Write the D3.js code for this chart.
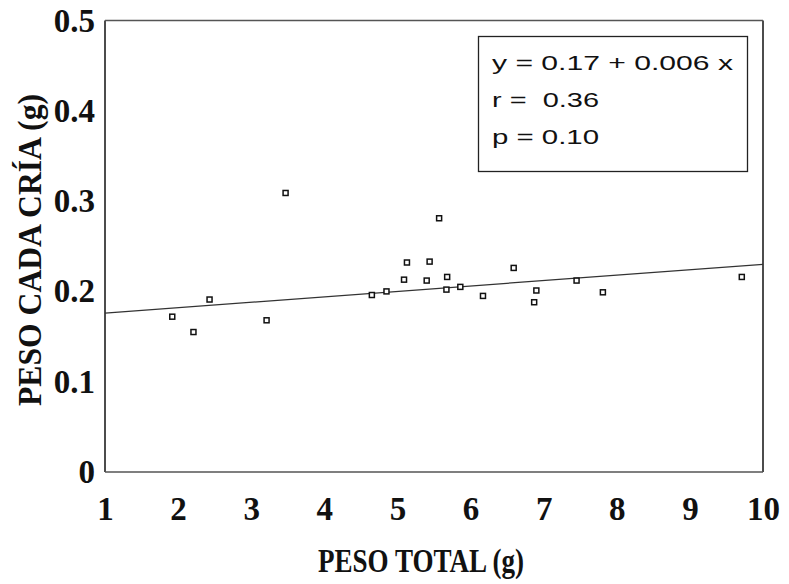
<!DOCTYPE html>
<html>
<head>
<meta charset="utf-8">
<script src="https://cdn.jsdelivr.net/npm/d3@7"></script>
<style>
  body { margin: 0; background: #fff; }
  svg { display: block; }
</style>
</head>
<body>
<svg id="chart" width="789" height="584"></svg>
<script>
// Total litter weight (g) and weight of each pup (g)
const pesoTotal = [1.92, 2.21, 2.43, 3.21, 3.47, 4.65, 4.85, 5.09, 5.13, 5.44, 5.40,
                   5.57, 5.67, 5.68, 5.86, 6.17, 6.59, 6.87, 6.90, 7.45, 7.81, 9.71];
const pesoCria  = [0.172, 0.155, 0.191, 0.168, 0.309, 0.196, 0.200, 0.213, 0.232, 0.233, 0.212,
                   0.281, 0.202, 0.216, 0.205, 0.195, 0.226, 0.188, 0.201, 0.212, 0.199, 0.216];

const xTicks = [1, 2, 3, 4, 5, 6, 7, 8, 9, 10];
const yTicks = [0, 0.1, 0.2, 0.3, 0.4, 0.5];
const yTickLabels = ["0", "0.1", "0.2", "0.3", "0.4", "0.5"];

// Regression fit as reported in the stats box
const fitIntercept = 0.17;
const fitSlope = 0.006;
const statLines = ["y = 0.17 + 0.006 x", "r =  0.36", "p = 0.10"];

const xTitle = "PESO TOTAL (g)";
const yTitle = "PESO CADA CRÍA (g)";

const svg = d3.select("#chart");
const serif = "'Liberation Serif', 'Times New Roman', serif";
const sans = "'Liberation Sans', Arial, sans-serif";

const x = d3.scaleLinear().domain([1, 10]).range([105, 763]);
const y = d3.scaleLinear().domain([0, 0.5]).range([472, 20.5]);

// Plot frame
const frame = svg.append("g").attr("fill", "none");
frame.append("line").attr("x1", x(1)).attr("x2", x(1)).attr("y1", y(0.5)).attr("y2", y(0))
  .attr("stroke", "#111").attr("stroke-width", 1.5);
frame.append("line").attr("x1", x(10)).attr("x2", x(10)).attr("y1", y(0.5)).attr("y2", y(0))
  .attr("stroke", "#111").attr("stroke-width", 1.5);
frame.append("line").attr("x1", x(1)).attr("x2", x(10)).attr("y1", y(0.5)).attr("y2", y(0.5))
  .attr("stroke", "#555").attr("stroke-width", 1.4);
frame.append("line").attr("x1", x(1)).attr("x2", x(10)).attr("y1", y(0)).attr("y2", y(0))
  .attr("stroke", "#555").attr("stroke-width", 1.4);

// Axes (labels only, no tick marks)
const xAxis = d3.axisBottom(x).tickValues(xTicks).tickFormat(d3.format("d"))
  .tickSizeInner(0).tickSizeOuter(0).tickPadding(25);
const gx = svg.append("g").attr("transform", `translate(0,${y(0)})`).call(xAxis);
gx.select(".domain").remove();
gx.selectAll("text").attr("font-family", serif).attr("font-weight", "bold")
  .attr("font-size", 33).attr("fill", "#111");

const yAxis = d3.axisLeft(y).tickValues(yTicks).tickFormat((d, i) => yTickLabels[i])
  .tickSizeInner(0).tickSizeOuter(0).tickPadding(10);
const gy = svg.append("g").attr("transform", `translate(${x(1)},0)`).call(yAxis);
gy.select(".domain").remove();
gy.selectAll("text").attr("font-family", serif).attr("font-weight", "bold")
  .attr("font-size", 33).attr("fill", "#111");

// Axis titles
svg.append("text")
  .attr("x", 421).attr("y", 572)
  .attr("text-anchor", "middle")
  .attr("font-family", serif).attr("font-weight", "bold").attr("font-size", 33)
  .attr("textLength", 206).attr("lengthAdjust", "spacingAndGlyphs")
  .attr("fill", "#111")
  .text(xTitle);

svg.append("text")
  .attr("transform", "translate(41,250) rotate(-90)")
  .attr("text-anchor", "middle")
  .attr("font-family", serif).attr("font-weight", "bold").attr("font-size", 34)
  .attr("textLength", 312).attr("lengthAdjust", "spacingAndGlyphs")
  .attr("fill", "#111")
  .text(yTitle);

// Regression line across the x range
const fitData = x.domain().map(v => ({ x: v, y: fitIntercept + fitSlope * v }));
svg.append("path")
  .datum(fitData)
  .attr("d", d3.line().x(d => x(d.x)).y(d => y(d.y)))
  .attr("fill", "none").attr("stroke", "#333").attr("stroke-width", 1.2);

// Data points: small open squares
const pts = pesoTotal.map((v, i) => ({ x: v, y: pesoCria[i] }));
svg.append("g").selectAll("rect").data(pts).join("rect")
  .attr("x", d => x(d.x) - 2.5).attr("y", d => y(d.y) - 2.5)
  .attr("width", 5).attr("height", 5)
  .attr("fill", "#fff").attr("stroke", "#111").attr("stroke-width", 1.5);

// Stats box
const box = svg.append("g");
box.append("rect")
  .attr("x", 478.5).attr("y", 36.5).attr("width", 269).attr("height", 135)
  .attr("fill", "#fff").attr("stroke", "#222").attr("stroke-width", 1.3);
const lineWidths = [241, 107, 107];
box.selectAll("text").data(statLines).join("text")
  .attr("x", 492).attr("y", (d, i) => 70 + i * 37)
  .attr("font-family", sans).attr("font-size", 21).attr("fill", "#111")
  .attr("textLength", (d, i) => lineWidths[i])
  .attr("lengthAdjust", "spacingAndGlyphs")
  .style("white-space", "pre")
  .text(d => d);
</script>
</body>
</html>
